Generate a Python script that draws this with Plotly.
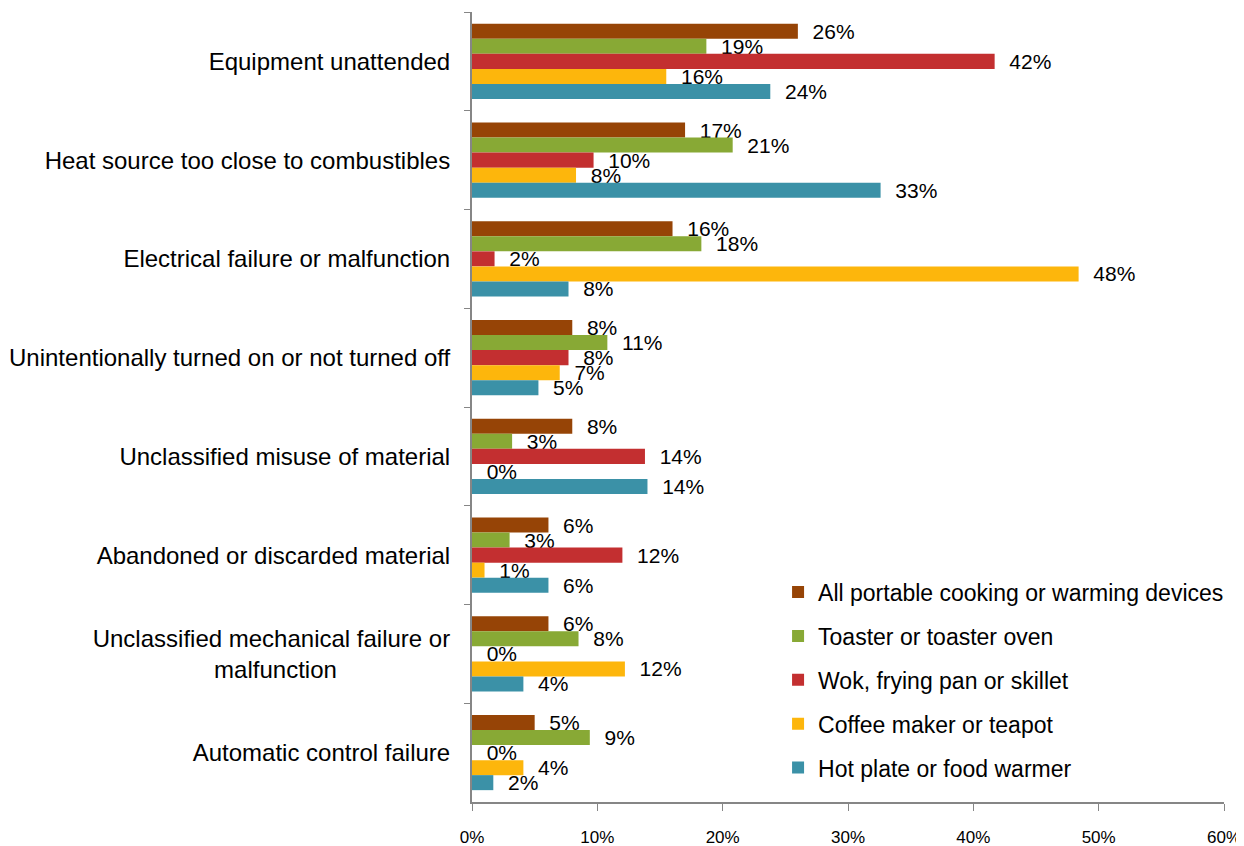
import plotly.graph_objects as go

NB = "\u00a0"

categories = [
    "Equipment unattended",
    "Heat source too close to combustibles",
    "Electrical failure or malfunction",
    "Unintentionally turned on or not turned off",
    "Unclassified misuse of material",
    "Abandoned or discarded material",
    "Unclassified mechanical failure or<br>malfunction" + NB * 17,
    "Automatic control failure",
]

series_names = [
    "All portable cooking or warming devices",
    "Toaster or toaster oven",
    "Wok, frying pan or skillet",
    "Coffee maker or teapot",
    "Hot plate or food warmer",
]

all_portable = [26.0, 17.0, 16.0, 8.0, 8.0, 6.1, 6.1, 5.0]
toaster = [18.7, 20.8, 18.3, 10.8, 3.2, 3.0, 8.5, 9.4]
wok = [41.7, 9.7, 1.8, 7.7, 13.8, 12.0, 0.0, 0.0]
coffee = [15.5, 8.3, 48.4, 7.0, 0.0, 1.0, 12.2, 4.1]
hot_plate = [23.8, 32.6, 7.7, 5.3, 14.0, 6.1, 4.1, 1.7]

series_values = [all_portable, toaster, wok, coffee, hot_plate]
colors = ["#964406", "#88A935", "#C32F30", "#FDB60C", "#3B91A7"]

FONT = "Arial, Liberation Sans"

fig = go.Figure()
for name, vals, col in zip(series_names, series_values, colors):
    fig.add_trace(go.Bar(
        y=categories, x=vals, name=name, orientation="h",
        marker=dict(color=col, line=dict(width=0)),
        text=[NB * 2 + f"{round(v):.0f}%" for v in vals],
        textposition="outside", constraintext="none", cliponaxis=False,
        textfont=dict(family=FONT, size=21, color="#000000"),
        legendgroup=name,
    ))

# the page body adds an 8px offset, so the figure is a bit smaller
fig.update_layout(
    width=1236, height=838,
    barmode="group", bargap=0.24, bargroupgap=0,
    plot_bgcolor="white", paper_bgcolor="white",
    margin=dict(l=464, r=20, t=4, b=44, autoexpand=False),
    font=dict(family=FONT, size=24, color="#000000"),
    showlegend=True,
    legend=dict(
        x=0.407, y=0.293, xanchor="left", yanchor="top",
        traceorder="grouped", tracegroupgap=11,
        font=dict(size=23), bgcolor="rgba(0,0,0,0)",
    ),
)

fig.update_yaxes(
    autorange="reversed", showgrid=False, automargin=False,
    showline=True, linecolor="#868686", linewidth=2,
    ticks="outside", tickson="boundaries", ticklen=6, tickcolor="#868686",
    tickfont=dict(size=24), ticklabelstandoff=15,
)
fig.update_xaxes(
    range=[0, 60], dtick=10, ticksuffix="%", showgrid=False, zeroline=False,
    automargin=False,
    showline=True, linecolor="#868686", linewidth=2,
    ticks="outside", ticklen=7, tickcolor="#868686",
    tickfont=dict(size=17), ticklabelstandoff=12,
)

fig.write_html("out.html")
